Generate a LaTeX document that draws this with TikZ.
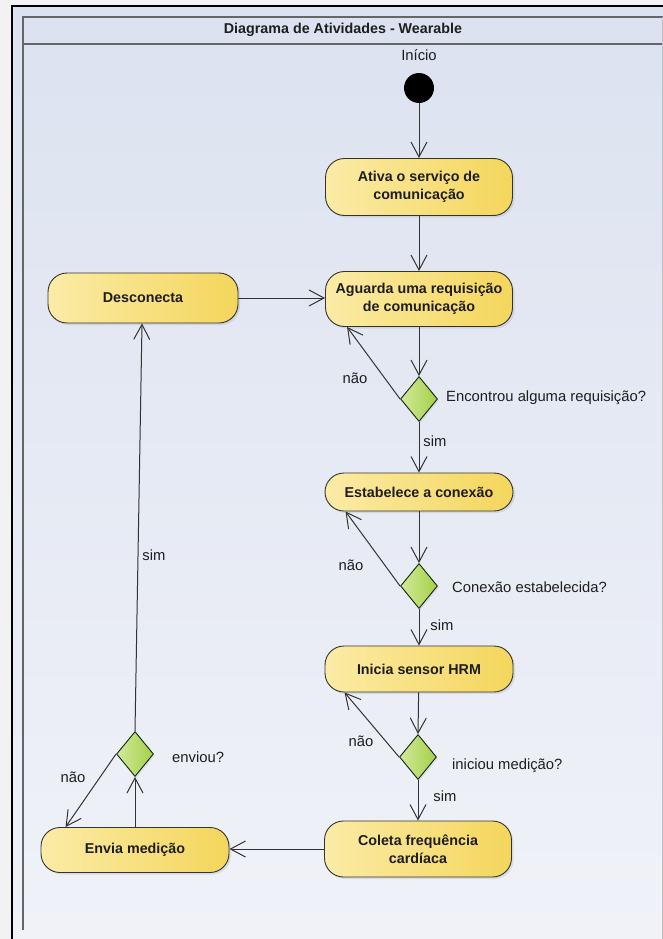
\documentclass[tikz,border=0pt]{standalone}
\usepackage{fontspec}
\setmainfont{Liberation Sans}
\usetikzlibrary{arrows.meta,shapes.geometric,shadows}
\definecolor{yelL}{HTML}{FBEBA6}
\definecolor{yelR}{HTML}{F4D65C}
\definecolor{grnL}{HTML}{D2E99A}
\definecolor{grnR}{HTML}{A4D048}
\definecolor{bgTop}{HTML}{DCE2F0}
\definecolor{bgBot}{HTML}{F0F2F8}
\definecolor{outside}{HTML}{F2F2F2}
\definecolor{txt}{HTML}{1E1E1E}
\definecolor{lnc}{HTML}{333333}
\begin{document}
\begin{tikzpicture}[x=1pt,y=-1pt,
  font=\fontsize{14.8}{18.5}\selectfont,
  act/.style={rectangle, rounded corners=19pt, draw=lnc, line width=0.9pt,
    left color=yelL, right color=yelR, minimum width=187pt, align=center,
    inner sep=0pt, text=txt, font=\fontsize{14.3}{18.5}\selectfont\bfseries,
    drop shadow={opacity=0.18, shadow xshift=2pt, shadow yshift=-2pt}},
  dec/.style={diamond, draw=lnc!80!green!40!black, line width=0.9pt,
    left color=grnL, right color=grnR, minimum width=37pt, minimum height=45pt,
    inner sep=0pt, drop shadow={opacity=0.15, shadow xshift=1.5pt, shadow yshift=-1.5pt}},
  lbl/.style={text=txt, inner sep=0pt},
  arr/.style={draw=lnc, line width=1pt, -{Straight Barb[length=15pt,width=16pt,line width=1pt]}}
]
\useasboundingbox (0,0) rectangle (663,939);
% backgrounds
\fill[outside] (0,0) rectangle (663,939);
\shade[top color=bgTop, bottom color=bgBot] (12,6.5) rectangle (663,939);
\fill[bgTop] (23,17) rectangle (663,44);
% frames
\draw[black, line width=2pt] (12,940) -- (12,6.5) -- (664,6.5);
\draw[black!60, line width=1.8pt] (23,930) -- (23,17) -- (664,17);
\draw[black!60, line width=1.8pt] (23,44) -- (664,44);
\draw[black!25, line width=1pt] (662,17) -- (662,939);
\node[lbl, font=\fontsize{14.3}{18.5}\selectfont\bfseries] (title) at (343,30) {Diagrama de Atividades - Wearable};

% nodes
\node[lbl] (inicio) at (419,55) {Início};
\node[circle, fill=black, minimum size=30pt, inner sep=0pt] (start) at (419,88) {};
\node[act, minimum height=57pt] (ativa) at (419,187) {Ativa o serviço de\\comunicação};
\node[act, minimum height=55pt] (aguarda) at (419,299) {Aguarda uma requisição\\de comunicação};
\node[act, minimum height=50pt, minimum width=190pt] (descon) at (143,298) {Desconecta};
\node[dec] (d1) at (419,399) {};
\node[act, minimum height=38pt, minimum width=188pt] (estab) at (419,492) {Estabelece a conexão};
\node[dec] (d2) at (419,586) {};
\node[act, minimum height=46pt, minimum width=188pt] (inicia) at (419,669) {Inicia sensor HRM};
\node[dec] (d3) at (418,757) {};
\node[act, minimum height=56pt] (coleta) at (418,849) {Coleta frequência\\cardíaca};
\node[act, minimum height=45pt, minimum width=188pt] (envia) at (135,850) {Envia medição};
\node[dec] (d4) at (135,754) {};

% labels
\node[lbl, anchor=west] (q1) at (446,398) {Encontrou alguma requisição?};
\node[lbl, anchor=west] (q2) at (452,587) {Conexão estabelecida?};
\node[lbl, anchor=west] (q3) at (452,766) {iniciou medição?};
\node[lbl, anchor=west] (q4) at (172,757) {enviou?};
\node[lbl] (n1) at (355,378) {não};
\node[lbl] (n2) at (351,565) {não};
\node[lbl] (n3) at (361,741) {não};
\node[lbl] (n4) at (73,777) {não};
\node[lbl] (s1) at (435,441) {sim};
\node[lbl] (s2) at (442,625) {sim};
\node[lbl] (s3) at (445,796) {sim};
\node[lbl] (s4) at (154,555) {sim};

% connectors
\draw[arr] (start) -- (ativa);
\draw[arr] (ativa) -- (aguarda);
\draw[arr] (descon.east) -- (descon.east -| aguarda.west);
\draw[arr] (aguarda) -- (d1);
\draw[arr] (d1.west) -- ([xshift=22pt]aguarda.south west);
\draw[arr] (d1) -- (estab);
\draw[arr] (estab) -- (d2);
\draw[arr] (d2.west) -- ([xshift=21pt]estab.south west);
\draw[arr] (d2) -- (inicia);
\draw[arr] (inicia) -- (d3.north);
\draw[arr] (d3.west) -- ([xshift=20pt]inicia.south west);
\draw[arr] (d3.south) -- (coleta);
\draw[arr] (coleta.west) -- (coleta.west -| envia.east);
\draw[arr] (envia) -- (d4);
\draw[arr] (d4.west) -- ([xshift=25pt]envia.north west);
\draw[arr] (d4.north) -- ([xshift=-1pt]descon.south);
\end{tikzpicture}
\end{document}
